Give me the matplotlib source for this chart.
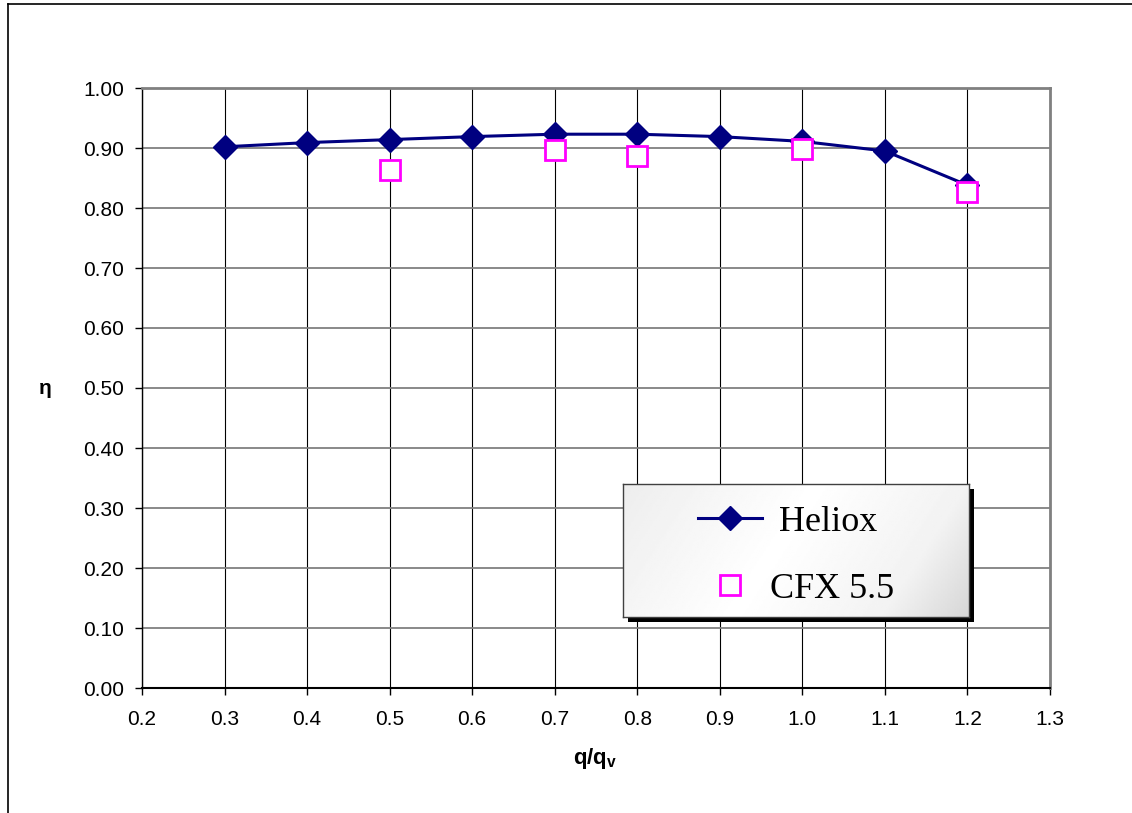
import numpy as np
import matplotlib
matplotlib.use("Agg")
import matplotlib.pyplot as plt
from matplotlib.lines import Line2D
from matplotlib.patches import Rectangle
from matplotlib.ticker import FormatStrFormatter, MultipleLocator

# data
q_heliox = [0.3, 0.4, 0.5, 0.6, 0.7, 0.8, 0.9, 1.0, 1.1, 1.2]
eta_heliox = [0.902, 0.909, 0.914, 0.919, 0.923, 0.923, 0.919, 0.911, 0.895, 0.838]
q_cfx = [0.5, 0.7, 0.8, 1.0, 1.2]
eta_cfx = [0.864, 0.897, 0.886, 0.899, 0.827]

plt.rcParams['font.family'] = ['Liberation Sans', 'DejaVu Sans']
plt.rcParams['mathtext.fontset'] = 'custom'
plt.rcParams['mathtext.bf'] = 'Liberation Sans:bold'
plt.rcParams['mathtext.rm'] = 'Liberation Sans'

W, H = 1132, 813
fig = plt.figure(figsize=(W / 100, H / 100), dpi=100)
ax = fig.add_axes([142 / W, 1 - 688 / H, 908 / W, 600 / H])

navy = '#000080'
magenta = '#FF00FF'

ax.plot(q_heliox, eta_heliox, color=navy, lw=2.2, marker='D', ms=12,
        mfc=navy, mec=navy, zorder=3, clip_on=False)
ax.plot(q_cfx, eta_cfx, ls='none', marker='s', ms=15, mfc='white',
        mec=magenta, mew=2, zorder=4, clip_on=False)

ax.set_xlim(0.2, 1.3)
ax.set_ylim(0.0, 1.0)
ax.xaxis.set_major_locator(MultipleLocator(0.1))
ax.yaxis.set_major_locator(MultipleLocator(0.1))
ax.xaxis.set_major_formatter(FormatStrFormatter('%.1f'))
ax.yaxis.set_major_formatter(FormatStrFormatter('%.2f'))
ax.tick_params(axis='both', direction='out', length=5, width=1, labelsize=15,
               colors='black')
ax.tick_params(axis='x', pad=11)
ax.tick_params(axis='y', pad=8)

ax.grid(axis='x', color='black', lw=0.8, zorder=1)
ax.grid(axis='y', color='#808080', lw=1.3, zorder=1)
ax.set_axisbelow(True)
ax.spines['left'].set_color('black')
ax.spines['bottom'].set_color('black')
ax.spines['top'].set_color('#808080')
ax.spines['right'].set_color('#808080')
ax.spines['top'].set_linewidth(2)
ax.spines['right'].set_linewidth(2)
ax.spines['left'].set_linewidth(1)
ax.spines['bottom'].set_linewidth(1.5)

ax.set_ylabel('η', rotation=0, fontsize=15, fontweight='bold', va='center', ha='center')
ax.yaxis.set_label_coords(-0.107, 0.5)
ax.set_xlabel(r'$\mathbf{q/q_v}$', fontsize=16)
ax.xaxis.set_label_coords(0.499, -0.097)

# legend box drawn by hand (gradient fill with black drop shadow)
lx0, ly0 = 480.7 / 908, 71 / 600
lw_, lh_ = 346.3 / 908, 133 / 600
ax.add_patch(Rectangle((lx0 + 5 / 908, ly0 - 5 / 600), lw_, lh_, transform=ax.transAxes,
                       facecolor='black', edgecolor='none', zorder=6, clip_on=False))
lax = ax.inset_axes([lx0, ly0, lw_, lh_], zorder=7)
gx, gy = np.meshgrid(np.linspace(0, 1, 200), np.linspace(0, 1, 80))
t = 0.8 * gx + 0.2 * (1 - gy)
grad = np.interp(t, [0.0, 0.45, 0.8, 1.0], [0.93, 1.0, 0.95, 0.84])
lax.imshow(grad, extent=[0, 1, 0, 1], aspect='auto', cmap='gray', vmin=0, vmax=1,
           origin='lower', zorder=0)
lax.set_xlim(0, 1)
lax.set_ylim(0, 1)
lax.set_xticks([])
lax.set_yticks([])
for s in lax.spines.values():
    s.set_color('#404040')
    s.set_linewidth(1)
lax.plot([0.2166, 0.4014], [0.742, 0.742], color=navy, lw=2.2)
lax.plot([0.309], [0.742], marker='D', ms=12, color=navy)
lax.plot([0.309], [0.2406], marker='s', ms=15, mfc='none', mec=magenta, mew=2)
lax.text(0.451, 0.742, 'Heliox', family=['Liberation Serif'], fontsize=26,
         va='center_baseline', ha='left')
lax.text(0.4253, 0.2406, 'CFX 5.5', family=['Liberation Serif'], fontsize=26,
         va='center_baseline', ha='left')

# outer frame (left and top edges only visible)
fig.add_artist(Line2D([8 / W, 8 / W], [0, 1 - 4 / H], transform=fig.transFigure,
                      color='black', lw=1.2))
fig.add_artist(Line2D([8 / W, 1], [1 - 4 / H, 1 - 4 / H], transform=fig.transFigure,
                      color='black', lw=1.2))

fig.savefig('out.png', dpi=100)
plt.close(fig)
